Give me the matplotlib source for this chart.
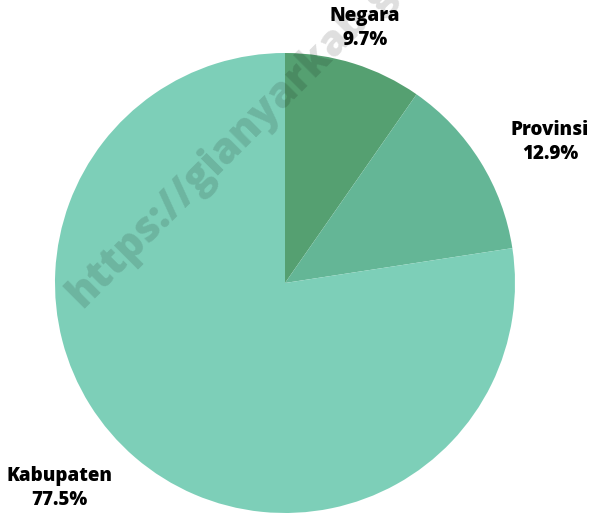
import matplotlib
matplotlib.use("Agg")
import matplotlib.pyplot as plt

categories = ["Negara", "Provinsi", "Kabupaten"]
values = [9.7, 12.9, 77.5]
colors = ["#55a071", "#64b696", "#7dcfb8"]

W, H = 591, 513
fig = plt.figure(figsize=(W / 100, H / 100), dpi=100)
ax = fig.add_axes([0, 0, 1, 1])

cx, cy, r = 285, H - 283, 230
ax.pie(values, colors=colors, startangle=90, counterclock=False,
       center=(cx, cy), radius=r, frame=True,
       wedgeprops=dict(linewidth=0))
ax.set_xlim(0, W)
ax.set_ylim(0, H)
ax.set_aspect("equal")
ax.axis("off")

label_pos = [(365, H - 28), (550, H - 142), (59, H - 488)]
for cat, val, (x, y) in zip(categories, values, label_pos):
    ax.text(x, y, f"{cat}\n{val}%", ha="center", va="center",
            fontsize=13.5, fontweight=800, family="Open Sans",
            linespacing=1.3, color="black")

ax.text(82, H - 309, "https://gianyarkab.go.id", rotation=45,
        rotation_mode="anchor", ha="left", va="baseline",
        fontsize=30, fontweight=800, family="Open Sans",
        color="black", alpha=0.13)

fig.savefig("out.png", dpi=100)
